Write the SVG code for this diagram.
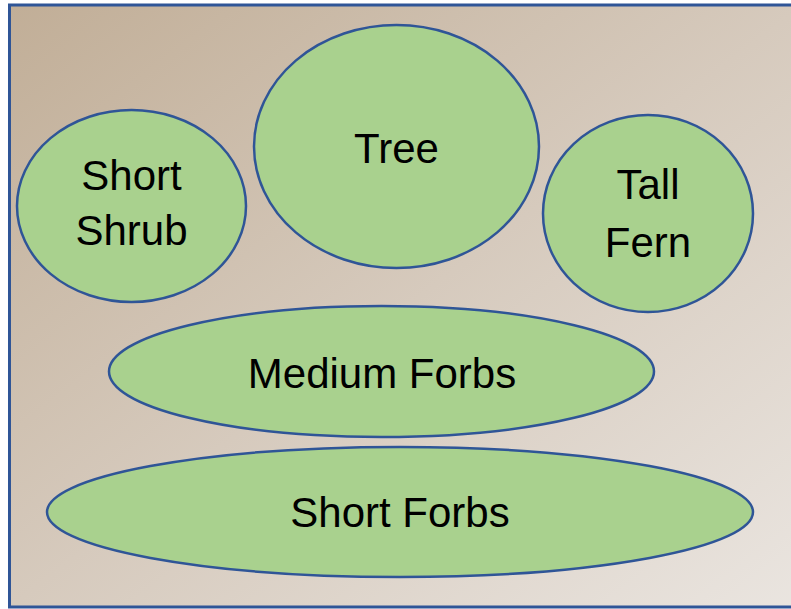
<svg xmlns="http://www.w3.org/2000/svg" width="791" height="609" viewBox="0 0 791 609">
<defs>
<linearGradient id="bg" x1="0" y1="0" x2="1" y2="1">
<stop offset="0" stop-color="#C1AE97"/>
<stop offset="0.5" stop-color="#D6CABD"/>
<stop offset="1" stop-color="#EAE5E0"/>
</linearGradient>
</defs>
<style>
.node ellipse{fill:#A9D18E;stroke:#2F5597;stroke-width:2.5}
.node text{font-family:"Liberation Sans",Arial,sans-serif;font-size:42px;fill:#000;text-anchor:middle}
</style>
<rect x="9.5" y="5" width="795" height="602" fill="url(#bg)" stroke="#2F5597" stroke-width="3"/>
<g id="connectors"/>
<g id="tree" class="node">
<ellipse cx="396.5" cy="146.5" rx="142.5" ry="121.5"/>
<text x="396.5" y="163">Tree</text>
</g>
<g id="short-shrub" class="node">
<ellipse cx="131.5" cy="206" rx="114.5" ry="96"/>
<text x="131.5" y="190">Short</text>
<text x="131.5" y="245">Shrub</text>
</g>
<g id="tall-fern" class="node">
<ellipse cx="648" cy="213.5" rx="105" ry="98.5"/>
<text x="648" y="199">Tall</text>
<text x="648" y="257">Fern</text>
</g>
<g id="medium-forbs" class="node">
<ellipse cx="381.5" cy="371.5" rx="272.5" ry="65.5"/>
<text x="382" y="388">Medium Forbs</text>
</g>
<g id="short-forbs" class="node">
<ellipse cx="400" cy="512" rx="353" ry="65"/>
<text x="400" y="527">Short Forbs</text>
</g>
</svg>
